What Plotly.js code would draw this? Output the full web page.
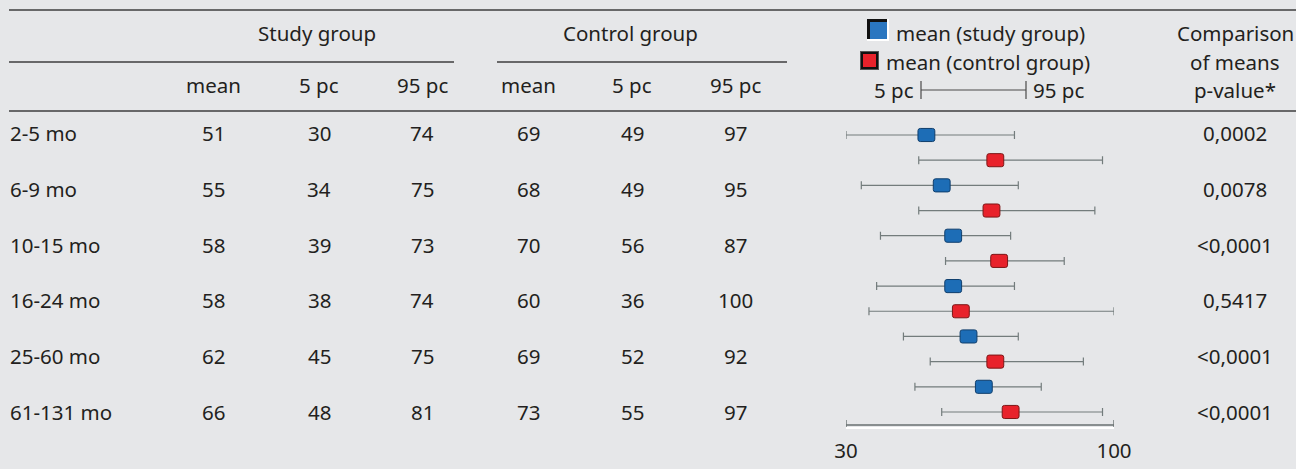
<!DOCTYPE html>
<html>
<head>
<meta charset="utf-8">
<script src="https://cdn.plot.ly/plotly-3.0.1.min.js"></script>
<style>
  html, body { margin: 0; padding: 0; background: #e6e7e9; }
  #chart { width: 1296px; height: 469px; }
</style>
</head>
<body>
<div id="chart"></div>
<script>
// Age groups and the per-group summary statistics
const ageGroups = ['2-5 mo', '6-9 mo', '10-15 mo', '16-24 mo', '25-60 mo', '61-131 mo'];
const studyMean = [51, 55, 58, 58, 62, 66];
const studyP5 = [30, 34, 39, 38, 45, 48];
const studyP95 = [74, 75, 73, 74, 75, 81];
const controlMean = [69, 68, 70, 60, 69, 73];
const controlP5 = [49, 49, 56, 36, 52, 55];
const controlP95 = [97, 95, 87, 100, 92, 97];
const pValues = ['0,0002', '0,0078', '<0,0001', '0,5417', '<0,0001', '<0,0001'];
const scaleTicks = [30, 100];

// Page geometry (pixels) and styling
const W = 1296, H = 469;
const FONT = 'Noto Sans, sans-serif';
const FS = 20.5;
const TXT = '#231f20';
const RULE = '#3e3e3e';
const BG = '#e6e7e9';
const WHISKER = '#737c7c';
const BLUE = '#1d6db6', BLUE_EDGE = '#0f3e6c';
const RED = '#e8222b', RED_EDGE = '#7d1616';

const px = x => x / W;
const py = y => 1 - y / H;

// forest-plot vertical units: one slot per mark, two marks per age group
const slotTop = 135, slotStep = 25.18;
const slot = y => (y - slotTop) / slotStep;
const axisY = 427;

// table columns
const colStudy = [213, 319, 422];
const colControl = [528, 632, 735];
const colP = 1235;
const rowY0 = 133, rowStep = 55.8;

const annotations = [];
function txt(x, y, text, anchor, extra) {
  annotations.push(Object.assign({
    xref: 'paper', yref: 'paper', x: px(x), y: py(y), text: text,
    xanchor: anchor || 'center', yanchor: 'middle', showarrow: false,
    font: { family: FONT, size: FS, color: TXT }
  }, extra || {}));
}

// header
txt(317, 33, 'Study group');
txt(630, 33, 'Control group');
['mean', '5 pc', '95 pc'].forEach((h, j) => { txt(colStudy[j], 85, h); txt(colControl[j], 85, h); });
txt(894, 33, 'mean (study group)', 'left');
txt(884, 62, 'mean (control group)', 'left');
txt(916, 90, '5 pc', 'right');
txt(1031, 90, '95 pc', 'left');
txt(colP, 33, 'Comparison');
txt(colP, 62, 'of means');
txt(colP, 90, 'p-value*');

// body
ageGroups.forEach((g, i) => {
  const y = rowY0 + i * rowStep;
  txt(8, y, g, 'left');
  [studyMean[i], studyP5[i], studyP95[i]].forEach((v, j) => txt(colStudy[j], y, String(v)));
  [controlMean[i], controlP5[i], controlP95[i]].forEach((v, j) => txt(colControl[j], y, String(v)));
  txt(colP, y, pValues[i]);
});

const shapes = [];
function rule(x0, x1, y) {
  shapes.push({ type: 'line', xref: 'paper', yref: 'paper', x0: px(x0), x1: px(x1), y0: py(y), y1: py(y),
    line: { color: RULE, width: 1.5 } });
}
rule(9, W, 10);
rule(9, 454, 62);
rule(497, 787, 62);
rule(9, W, 111);

// legend keys
function prect(x0, y0, x1, y1, color) {
  shapes.push({ type: 'rect', xref: 'paper', yref: 'paper', x0: px(x0), x1: px(x1), y0: py(y1), y1: py(y0),
    fillcolor: color, line: { width: 0 } });
}
prect(867, 19, 889, 41, '#ffffff');
prect(867, 19, 887, 39, '#111111');
prect(870, 22, 887, 39, '#2a76c0');
prect(860, 51, 879, 70, '#555555');
prect(861, 52, 878, 69, '#111111');
prect(863, 54, 876, 67, RED);
shapes.push({ type: 'line', xref: 'paper', yref: 'paper', x0: px(921), x1: px(1026), y0: py(90), y1: py(90),
  line: { color: '#4a4a4a', width: 1.2 } });
[921, 1026].forEach(x => shapes.push({ type: 'line', xref: 'paper', yref: 'paper', x0: px(x), x1: px(x),
  y0: py(81), y1: py(99), line: { color: '#4a4a4a', width: 1.2 } }));

// rounded mean boxes, in data units of the forest axes
const boxHalfW = 2.2, boxHalfH = 0.26, rX = 0.6, rY = 0.09;
function meanBox(x, k, fill, edge) {
  const l = x - boxHalfW, r = x + boxHalfW, t = k - boxHalfH, b = k + boxHalfH;
  const path = `M ${l + rX},${t} L ${r - rX},${t} Q ${r},${t} ${r},${t + rY} L ${r},${b - rY} Q ${r},${b} ${r - rX},${b}` +
    ` L ${l + rX},${b} Q ${l},${b} ${l},${b - rY} L ${l},${t + rY} Q ${l},${t} ${l + rX},${t} Z`;
  shapes.push({ type: 'path', xref: 'x', yref: 'y', path: path, fillcolor: fill,
    line: { color: edge, width: 1 }, layer: 'above' });
}
const studySlots = ageGroups.map((g, i) => 2 * i);
const controlSlots = ageGroups.map((g, i) => 2 * i + 1);
studyMean.forEach((m, i) => meanBox(m, studySlots[i], BLUE, BLUE_EDGE));
controlMean.forEach((m, i) => meanBox(m, controlSlots[i], RED, RED_EDGE));

function whiskers(name, means, lo, hi, slots) {
  return {
    type: 'scatter', mode: 'markers', name: name, x: means, y: slots,
    marker: { size: 1, color: 'rgba(0,0,0,0)' },
    error_x: { type: 'data', symmetric: false,
      array: means.map((m, i) => hi[i] - m), arrayminus: means.map((m, i) => m - lo[i]),
      color: WHISKER, thickness: 1.2, width: 4 },
    hoverinfo: 'skip', showlegend: false
  };
}

// scale bar spanning the axis range
const scaleMid = (scaleTicks[0] + scaleTicks[1]) / 2;
const scaleBar = {
  type: 'scatter', mode: 'markers', x: [scaleMid], y: [slot(425)],
  marker: { size: 1, color: 'rgba(0,0,0,0)' },
  error_x: { type: 'data', symmetric: true, array: [scaleTicks[1] - scaleMid], color: '#6a7272', thickness: 1.4, width: 5 },
  hoverinfo: 'skip', showlegend: false
};

const data = [
  whiskers('study group', studyMean, studyP5, studyP95, studySlots),
  whiskers('control group', controlMean, controlP5, controlP95, controlSlots),
  scaleBar
];

const layout = {
  width: W, height: H,
  margin: { l: 0, r: 0, t: 0, b: 0 },
  paper_bgcolor: BG, plot_bgcolor: 'rgba(0,0,0,0)',
  showlegend: false,
  xaxis: {
    domain: [px(846), px(1114)], range: [scaleTicks[0], scaleTicks[1]],
    showgrid: false, zeroline: false, showline: true, linecolor: '#ffffff', linewidth: 2,
    tickvals: scaleTicks, ticktext: scaleTicks.map(String), ticks: '',
    ticklabelstandoff: 4,
    tickfont: { family: FONT, size: FS, color: TXT }, fixedrange: true
  },
  yaxis: {
    domain: [py(axisY), 1], range: [slot(axisY), slot(0)],
    visible: false, showgrid: false, zeroline: false, fixedrange: true
  },
  annotations: annotations,
  shapes: shapes
};

Plotly.newPlot('chart', data, layout, { staticPlot: true, displayModeBar: false });
</script>
</body>
</html>
